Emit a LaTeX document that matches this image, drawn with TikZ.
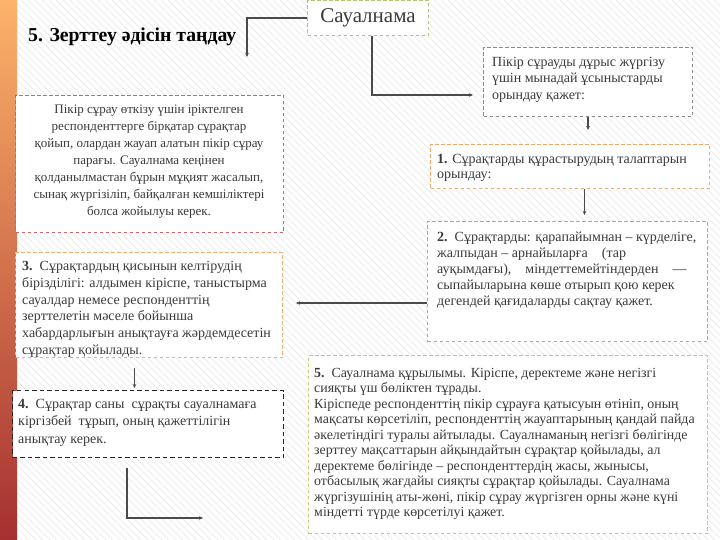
\documentclass[tikz,border=0pt]{standalone}
\usepackage{fontspec}
\setmainfont{Liberation Serif}
\usetikzlibrary{arrows.meta}
\definecolor{txtgray}{HTML}{3A3A3A}
\definecolor{sauc}{HTML}{B8C070}
\definecolor{pikc}{HTML}{8A8A8A}
\definecolor{onec}{HTML}{F0A868}
\definecolor{twoc}{HTML}{80B8C8}
\definecolor{pinkc}{HTML}{C86868}
\definecolor{threec}{HTML}{F0B078}
\definecolor{fivec}{HTML}{C8C878}
\definecolor{connc}{HTML}{4A4A4A}
\tikzset{
  boxshape/.style={draw, dash pattern=on 3.5pt off 2.5pt, line width=1pt, fill=white, inner sep=0pt, anchor=north west},
  txt/.style={anchor=north west, align=left, inner sep=0pt, text=txtgray},
  conn/.style={draw=connc, line width=1.2pt, -{Stealth[length=4pt,width=3.5pt]}},
  stripe/.style={draw=black!7, line width=1pt}
}
\begin{document}
\begin{tikzpicture}[x=1pt,y=-1pt]
\useasboundingbox (0,0) rectangle (720,540);
\fill[white] (0,0) rectangle (720,540);
\begin{scope}
\clip (0,0) rectangle (720,540);
\foreach \i in {-560,-553,...,720} \draw[stripe] (\i,0) -- (\i+540,540);
\end{scope}
\shade[top color={rgb,255:red,253;green,178;blue,106}, middle color={rgb,255:red,245;green,128;blue,30}, bottom color={rgb,255:red,165;green,48;blue,48}] (0,0) rectangle (17,540);

% title
\node[anchor=base west, inner sep=0pt, font=\fontsize{19.7}{22}\selectfont\bfseries] (title) at (28,42) {5. Зерттеу әдісін таңдау};

% boxes
\node[boxshape, draw=sauc, minimum width=121pt, minimum height=35pt] (sau) at (307,0) {};
\node[inner sep=0pt, text=txtgray, font=\fontsize{21}{24}\selectfont] (saut) at (sau.center) {Сауалнама};

\node[boxshape, draw=pikc, minimum width=209pt, minimum height=69pt] (pik) at (483,47) {};
\node[txt, font=\fontsize{14}{16.5}\selectfont] (pikt) at (492,57) {Пікір сұрауды дұрыс жүргізу\\үшін мынадай ұсыныстарды\\орындау қажет:};

\node[boxshape, draw=onec, minimum width=279pt, minimum height=44pt] (b1) at (430,144) {};
\node[txt, font=\fontsize{14}{15}\selectfont] (b1t) at (437,154) {\textbf{1.} Сұрақтарды құрастырудың талаптарын\\орындау:};

\node[boxshape, draw=twoc, minimum width=280pt, minimum height=120pt] (b2) at (427,221) {};
\node[txt, font=\fontsize{14}{16}\selectfont] (b2t) at (437,232) {\textbf{2.}\enspace Сұрақтарды: қарапайымнан – күрделіге,\\жалпыдан – арнайыларға\quad (тар\\ауқымдағы),\quad міндеттемейтіндерден\quad —\\сыпайыларына көше отырып қою керек\\дегендей қағидаларды сақтау қажет.};

\node[boxshape, draw=pinkc, minimum width=268pt, minimum height=137pt] (pink) at (15,95) {};
\node[anchor=north, align=center, inner sep=0pt, text=txtgray, font=\fontsize{13}{17}\selectfont] (pinkt) at (149,105) {Пікір сұрау өткізу үшін іріктелген\\респонденттерге бірқатар сұрақтар\\қойып, олардан жауап алатын пікір сұрау\\парағы. Сауалнама кеңінен\\қолданылмастан бұрын мұқият жасалып,\\сынақ жүргізіліп, байқалған кемшіліктері\\болса жойылуы керек.};

\node[boxshape, draw=threec, minimum width=267pt, minimum height=105pt] (b3) at (15,252) {};
\node[txt, font=\fontsize{14}{16.8}\selectfont] (b3t) at (22,261) {\textbf{3.}\enspace Сұрақтардың қисынын келтірудің\\бірізділігі: алдымен кіріспе, таныстырма\\сауалдар немесе респонденттің\\зерттелетін мәселе бойынша\\хабардарлығын анықтауға жәрдемдесетін\\сұрақтар қойылады.};

\node[boxshape, draw=black!85, dash pattern=on 4.5pt off 3pt, minimum width=271pt, minimum height=67pt] (b4) at (12,390) {};
\node[txt, font=\fontsize{14}{17.5}\selectfont] (b4t) at (18,399) {\textbf{4.}\enspace Сұрақтар саны\enspace сұрақты сауалнамаға\\кіргізбей\enspace тұрып, оның қажеттілігін\\анықтау керек.};

\node[boxshape, draw=fivec, minimum width=399pt, minimum height=178pt] (b5) at (308,355) {};
\node[txt, font=\fontsize{13.9}{15.5}\selectfont] (b5t) at (314,368) {\textbf{5.}\enspace Сауалнама құрылымы. Кіріспе, деректеме және негізгі\\сияқты үш бөліктен тұрады.\\Кіріспеде респонденттің пікір сұрауға қатысуын өтініп, оның\\мақсаты көрсетіліп, респонденттің жауаптарының қандай пайда\\әкелетіндігі туралы айтылады. Сауалнаманың негізгі бөлігінде\\зерттеу мақсаттарын айқындайтын сұрақтар қойылады, ал\\деректеме бөлігінде – респонденттердің жасы, жынысы,\\отбасылық жағдайы сияқты сұрақтар қойылады. Сауалнама\\жүргізушінің аты-жөні, пікір сұрау жүргізген орны және күні\\міндетті түрде көрсетілуі қажет.};

% connectors
\coordinate (t1) at (247,57);
\coordinate (a2) at (473,95);
\coordinate (y303) at (0,303);
\coordinate (l1) at (127,468);
\coordinate (l2) at (203,518);
\draw[conn] (sau.west) -| (t1);
\draw[conn] ([xshift=4pt]sau.south) |- (a2);
\draw[conn] (pik.south) -- (pik.south |- b1.north) [shorten >=14pt];
\draw[conn, shorten >=6pt] ([xshift=14.5pt]b1.south) -- ([xshift=14.5pt]b1.south |- b2.north);
\draw[conn, shorten >=13pt] (b2.west |- y303) -- (b3.east |- y303);
\draw[conn, shorten <=10pt, shorten >=2pt] ([xshift=-14.5pt]b3.south) -- ([xshift=-14.5pt]b3.south |- b4.north);
\draw[conn] (l1) |- (l2);
\end{tikzpicture}
\end{document}
